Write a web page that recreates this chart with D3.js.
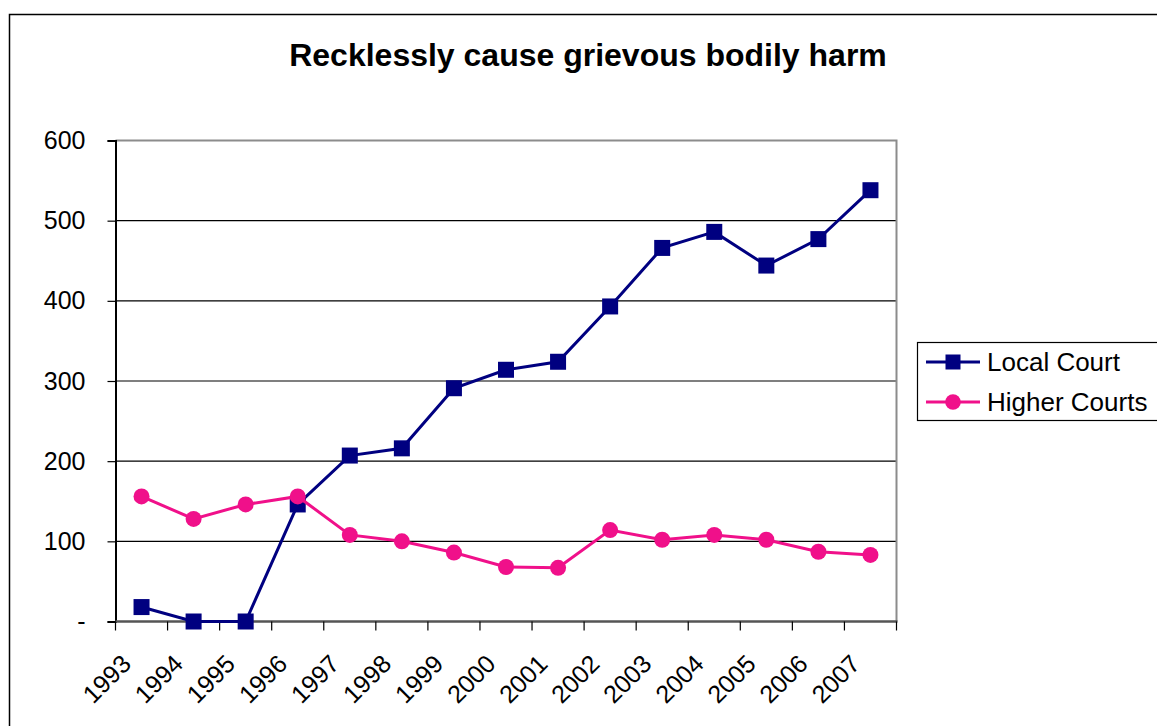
<!DOCTYPE html>
<html>
<head>
<meta charset="utf-8">
<title>Recklessly cause grievous bodily harm</title>
<script src="https://d3js.org/d3.v7.min.js"></script>
<style>
  body { margin: 0; background: #fff; }
  text { font-family: "Liberation Sans", Arial, sans-serif; fill: #000; }
</style>
</head>
<body>
<script>
// data
var years = ["1993","1994","1995","1996","1997","1998","1999","2000","2001","2002","2003","2004","2005","2006","2007"];
var localCourt   = [18, 0, 0, 146, 207, 216, 291, 314, 324, 393, 466, 486, 444, 477, 538];
var higherCourts = [156, 128, 146, 156, 108, 100, 86, 68, 67, 114, 102, 108, 102, 87, 83];
var yTicks = [0, 100, 200, 300, 400, 500, 600];
var seriesNames = ["Local Court", "Higher Courts"];

var width = 1157, height = 726;
var navy = "#000080", pink = "#F0108A";

var svg = d3.select("body").append("svg")
    .attr("width", width)
    .attr("height", height);

// outer chart frame (runs off the right and bottom edges)
svg.append("rect")
    .attr("x", 9.5).attr("y", 14.5)
    .attr("width", 1300).attr("height", 900)
    .attr("fill", "none").attr("stroke", "#000").attr("stroke-width", 1.5);

svg.append("text")
    .attr("x", 588).attr("y", 66)
    .attr("text-anchor", "middle")
    .style("font-size", "32px").style("font-weight", "bold")
    .text("Recklessly cause grievous bodily harm");

var pLeft = 115.5, pRight = 896.5, pTop = 140.5, pBottom = 621.5;

var x = d3.scaleBand().domain(years).range([pLeft, pRight]);
var y = d3.scaleLinear().domain([0, 600]).range([pBottom, pTop]);

// gridlines
svg.append("g").selectAll("line")
    .data(yTicks.filter(function(d){ return d > 0 && d < 600; }))
    .enter().append("line")
    .attr("x1", pLeft).attr("x2", pRight)
    .attr("y1", function(d){ return y(d); })
    .attr("y2", function(d){ return y(d); })
    .attr("stroke", "#000").attr("stroke-width", 1.2);

// plot area border (top + right in grey)
svg.append("path")
    .attr("d", "M" + pLeft + "," + pTop + "H" + pRight + "V" + pBottom)
    .attr("fill", "none").attr("stroke", "#8c8c8c").attr("stroke-width", 2);

// y axis
var yAxis = d3.axisLeft(y).tickValues(yTicks).tickSize(8).tickPadding(22)
    .tickFormat(function(d){ return d === 0 ? "-" : d; });
var gy = svg.append("g").attr("transform", "translate(" + pLeft + ",0)").call(yAxis);
gy.select(".domain").attr("stroke", "#000").attr("stroke-width", 2);
gy.selectAll(".tick line").attr("stroke", "#000").attr("stroke-width", 1.2);
gy.selectAll(".tick text").style("font-size", "25px").attr("font-family", null);

// x axis: ticks on band edges
var edges = years.map(function(d){ return x(d); }).concat([pRight]);
var gx = svg.append("g");
gx.append("line")
    .attr("x1", pLeft).attr("x2", pRight + 1)
    .attr("y1", pBottom).attr("y2", pBottom)
    .attr("stroke", "#555").attr("stroke-width", 2.5);
gx.selectAll(".xt").data(edges).enter().append("line")
    .attr("class", "xt")
    .attr("x1", function(d){ return d; }).attr("x2", function(d){ return d; })
    .attr("y1", pBottom).attr("y2", pBottom + 9)
    .attr("stroke", "#000").attr("stroke-width", 1.2);
gx.selectAll(".xl").data(years).enter().append("text")
    .attr("class", "xl")
    .attr("text-anchor", "end")
    .style("font-size", "25px")
    .attr("transform", function(d){
        var cx = x(d) + x.bandwidth() / 2 - 9;
        return "translate(" + cx + "," + (pBottom + 44) + ") rotate(-45)";
    })
    .text(function(d){ return d; });

var line = d3.line()
    .x(function(d, i){ return x(years[i]) + x.bandwidth() / 2; })
    .y(function(d){ return y(d); });

// Local Court
svg.append("path").datum(localCourt)
    .attr("d", line)
    .attr("fill", "none").attr("stroke", navy).attr("stroke-width", 3);
svg.append("g").selectAll("rect").data(localCourt).enter().append("rect")
    .attr("x", function(d, i){ return x(years[i]) + x.bandwidth() / 2 - 8; })
    .attr("y", function(d){ return y(d) - 8; })
    .attr("width", 16).attr("height", 16)
    .attr("fill", navy);

// Higher Courts
svg.append("path").datum(higherCourts)
    .attr("d", line)
    .attr("fill", "none").attr("stroke", pink).attr("stroke-width", 3);
svg.append("g").selectAll("circle").data(higherCourts).enter().append("circle")
    .attr("cx", function(d, i){ return x(years[i]) + x.bandwidth() / 2; })
    .attr("cy", function(d){ return y(d); })
    .attr("r", 8)
    .attr("fill", pink);

// legend
var lg = svg.append("g");
lg.append("rect")
    .attr("x", 917.5).attr("y", 342.5)
    .attr("width", 300).attr("height", 78)
    .attr("fill", "#fff").attr("stroke", "#000").attr("stroke-width", 1.2);
seriesNames.forEach(function(name, i){
    var ly = 362 + i * 40;
    var col = i === 0 ? navy : pink;
    lg.append("line")
        .attr("x1", 926).attr("x2", 980)
        .attr("y1", ly).attr("y2", ly)
        .attr("stroke", col).attr("stroke-width", 3);
    if (i === 0) {
        lg.append("rect").attr("x", 953 - 7.5).attr("y", ly - 7.5)
            .attr("width", 15).attr("height", 15).attr("fill", col);
    } else {
        lg.append("circle").attr("cx", 953).attr("cy", ly).attr("r", 7.8).attr("fill", col);
    }
    lg.append("text")
        .attr("x", 987).attr("y", ly + 9)
        .style("font-size", "26px")
        .text(name);
});
</script>
</body>
</html>
